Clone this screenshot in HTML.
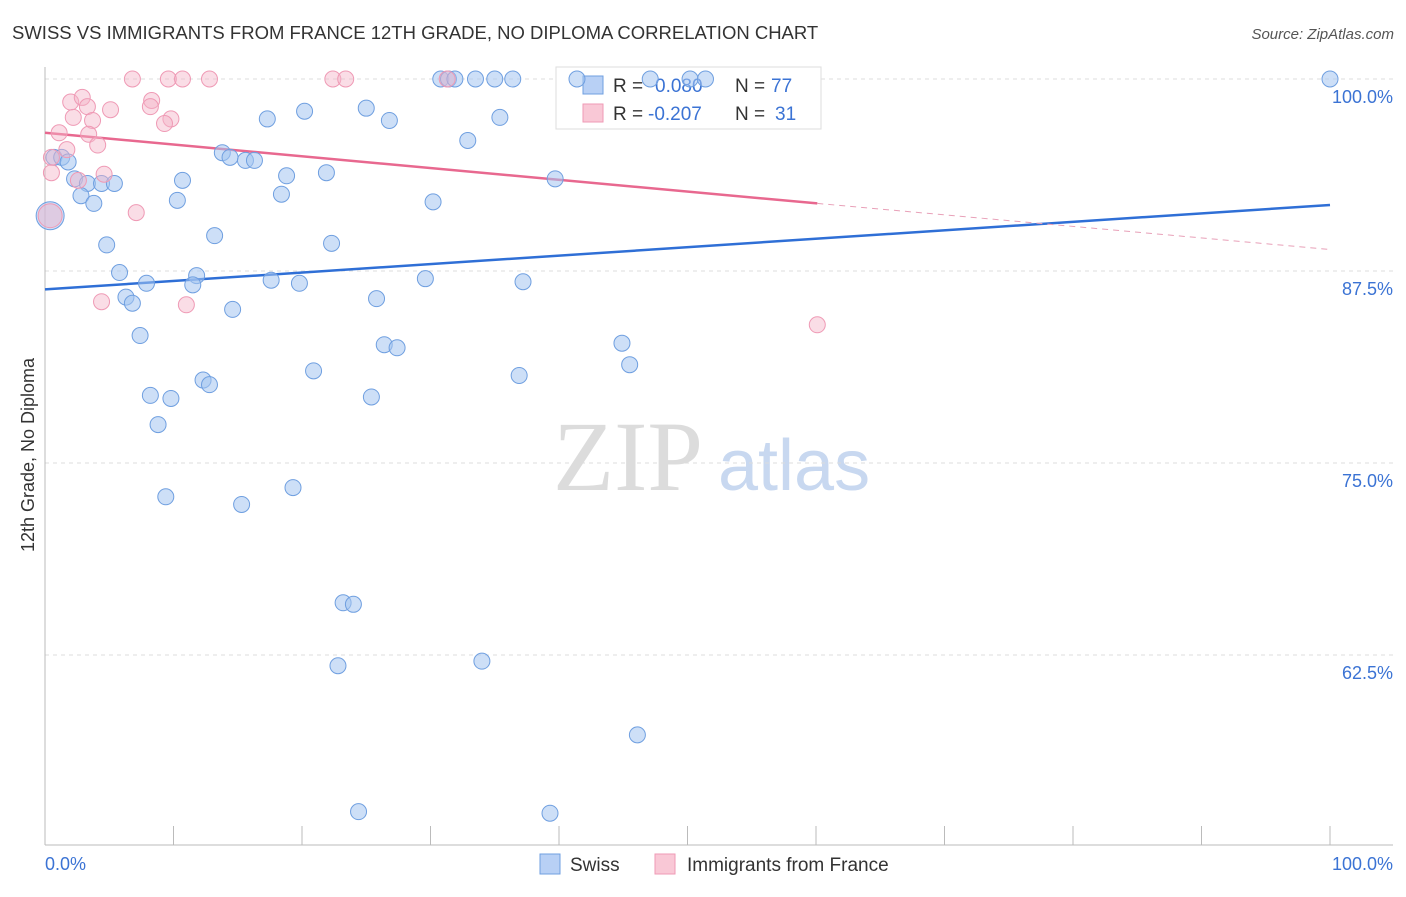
<!DOCTYPE html>
<html><head><meta charset="utf-8"><style>
body{margin:0;background:#fff;font-family:"Liberation Sans",sans-serif}
</style></head><body>
<svg id="chart" width="1406" height="892" viewBox="0 0 1406 892" xmlns="http://www.w3.org/2000/svg" font-family="Liberation Sans, sans-serif">
<text x="12" y="39" font-size="18.5" fill="#333">SWISS VS IMMIGRANTS FROM FRANCE 12TH GRADE, NO DIPLOMA CORRELATION CHART</text>
<text x="1394" y="39" font-size="15" fill="#555" font-style="italic" text-anchor="end">Source: ZipAtlas.com</text>
<g>
<text x="553" y="490" font-size="100" fill="#dcdcdc" style="font-family:'Liberation Serif',serif">ZIP</text>
<text x="718" y="490" font-size="72" fill="#c8d8f0" style="font-family:'Liberation Sans',sans-serif">atlas</text>
</g>
<g id="grid"></g>
<g id="axes"></g>
<g>
<rect x="556" y="67" width="265" height="62" fill="#fff" stroke="#ddd"/>
<rect x="583" y="76" width="20" height="18" fill="#b8d0f5" stroke="#6f9fe0"/>
<text x="613" y="92" font-size="19" fill="#333">R = </text><text x="655" y="92" font-size="19" fill="#3b73d4">0.080</text>
<text x="735" y="92" font-size="19" fill="#333">N = </text><text x="771" y="92" font-size="19" fill="#3b73d4">77</text>
<rect x="583" y="104" width="20" height="18" fill="#f9c8d6" stroke="#ef9ab5"/>
<text x="613" y="120" font-size="19" fill="#333">R = </text><text x="648" y="120" font-size="19" fill="#3b73d4">-0.207</text>
<text x="735" y="120" font-size="19" fill="#333">N = </text><text x="775" y="120" font-size="19" fill="#3b73d4">31</text>
</g>
<g id="trend"></g>
<g id="points"></g>
<text transform="translate(34,455) rotate(-90)" font-size="18" fill="#333" text-anchor="middle">12th Grade, No Diploma</text>
<g>
<rect x="540" y="854" width="20" height="20" fill="#b8d0f5" stroke="#6f9fe0"/>
<text x="570" y="871" font-size="19" fill="#333">Swiss</text>
<rect x="655" y="854" width="20" height="20" fill="#f9c8d6" stroke="#ef9ab5"/>
<text x="687" y="871" font-size="19" fill="#333">Immigrants from France</text>
</g>
</svg>
<script>
const yTicks=[100,87.5,75,62.5];
const yTickLabels=["100.0%","87.5%","75.0%","62.5%"];
const xTickLabels=["0.0%","100.0%"];
const swissX=[100,30.8,31.4,31.9,33.5,35.0,36.4,41.4,47.1,50.2,51.4,0.7,1.3,1.8,2.3,3.3,4.4,5.4,2.8,3.8,4.8,5.8,7.9,6.3,6.8,7.4,8.2,9.8,8.8,9.4,10.7,10.3,11.8,11.5,12.3,12.8,13.2,13.8,14.4,15.6,16.3,14.6,15.3,17.3,17.6,18.8,18.4,19.8,20.2,20.9,19.3,21.9,22.3,25.0,26.8,25.8,26.4,27.4,25.4,23.2,24.0,22.8,24.4,29.6,30.2,32.9,35.4,37.2,36.9,39.7,34.0,39.3,44.9,45.5,46.1];
const swissY=[100,100,100,100,100,100,100,100,100,100,100,94.9,94.9,94.6,93.5,93.2,93.2,93.2,92.4,91.9,89.2,87.4,86.7,85.8,85.4,83.3,79.4,79.2,77.5,72.8,93.4,92.1,87.2,86.6,80.4,80.1,89.8,95.2,94.9,94.7,94.7,85.0,72.3,97.4,86.9,93.7,92.5,86.7,97.9,81.0,73.4,93.9,89.3,98.1,97.3,85.7,82.7,82.5,79.3,65.9,65.8,61.8,52.3,87.0,92.0,96.0,97.5,86.8,80.7,93.5,62.1,52.2,82.8,81.4,57.3];
const franceX=[6.8,9.6,10.7,12.8,22.4,23.4,31.3,2.0,2.9,3.3,5.1,8.3,8.2,2.2,3.7,9.8,9.3,1.1,3.4,4.1,0.5,1.7,0.5,4.6,2.6,7.1,4.4,11.0,60.1];
const franceY=[100,100,100,100,100,100,100,98.5,98.8,98.2,98.0,98.6,98.2,97.5,97.3,97.4,97.1,96.5,96.4,95.7,94.9,95.4,93.9,93.8,93.4,91.3,85.5,85.3,84.0];
const bigX=[0.4],bigSwissY=[91.1],bigFranceY=[91.1];
const swissTrend=[86.3,91.8];
const franceTrend=[96.5,91.9,88.9];
const X=v=>45+v*12.85, Y=v=>79+(100-v)*15.36;
const NS="http://www.w3.org/2000/svg";
function mk(t,a,p){const e=document.createElementNS(NS,t);for(const k in a)e.setAttribute(k,a[k]);p.appendChild(e);return e;}
const grid=document.getElementById('grid'),axes=document.getElementById('axes'),tr=document.getElementById('trend'),pts=document.getElementById('points');
yTicks.forEach((t,i)=>{
 const l=mk('line',{x1:45,x2:1393,y1:Y(t),y2:Y(t),stroke:'#ddd','stroke-dasharray':'4,4'},grid);
 
 
 const tx=mk('text',{x:1393,y:Y(t)+24,'font-size':18,fill:'#3b73d4','text-anchor':'end'},grid);
 tx.textContent=yTickLabels[i];
 
 
});
const ya=mk('line',{x1:45,x2:45,y1:67,y2:845,stroke:'#bbb'},axes);


const xa=mk('line',{x1:45,x2:1393,y1:845,y2:845,stroke:'#bbb'},axes);


for(let i=0;i<=10;i++){const t=mk('line',{x1:X(i*10),x2:X(i*10),y1:826,y2:845,stroke:'#bbb'},axes);
 
 }
[[0,'start',45],[1,'end',1393]].forEach(([i,a,x])=>{const t=mk('text',{x:x,y:870,'font-size':18,fill:'#3b73d4','text-anchor':a},axes);t.textContent=xTickLabels[i];
 
 });
const sl=mk('line',{x1:X(0),y1:Y(swissTrend[0]),x2:X(100),y2:Y(swissTrend[1]),stroke:'#2f6fd6','stroke-width':2.5},tr);


const fl=mk('line',{x1:X(0),y1:Y(franceTrend[0]),x2:X(60.1),y2:Y(franceTrend[1]),stroke:'#e8688f','stroke-width':2.5},tr);


const fd=mk('line',{x1:X(60.1),y1:Y(franceTrend[1]),x2:X(100),y2:Y(franceTrend[2]),stroke:'#e8a0b8','stroke-width':1,'stroke-dasharray':'6,5'},tr);


swissX.forEach((x,i)=>{const c=mk('circle',{cx:X(x),cy:Y(swissY[i]),r:8,fill:'rgba(164,196,240,0.55)',stroke:'#6f9fe0','stroke-width':1},pts);
 
 });
franceX.forEach((x,i)=>{const c=mk('circle',{cx:X(x),cy:Y(franceY[i]),r:8,fill:'rgba(245,180,200,0.45)',stroke:'#ef9ab5','stroke-width':1},pts);
 
 });
const b1=mk('circle',{cx:X(bigX[0]),cy:Y(bigSwissY[0]),r:14,fill:'rgba(164,196,240,0.55)',stroke:'#6f9fe0'},pts);


const b2=mk('circle',{cx:X(bigX[0]),cy:Y(bigFranceY[0]),r:12,fill:'rgba(245,180,200,0.45)',stroke:'#ef9ab5'},pts);


</script>
</body></html>
